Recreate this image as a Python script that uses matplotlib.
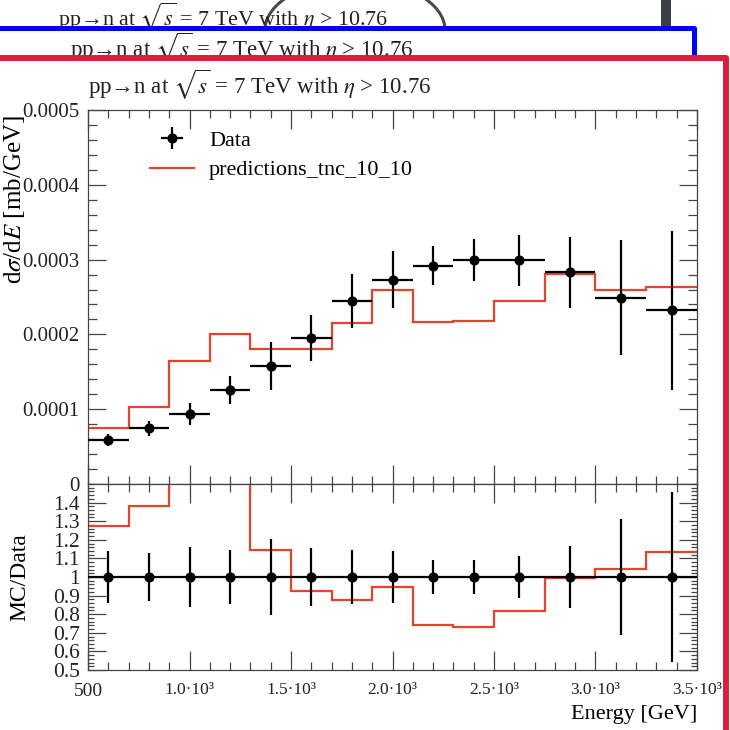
import numpy as np
import matplotlib
matplotlib.use("Agg")
import matplotlib.pyplot as plt
from matplotlib.patches import Rectangle, Ellipse
from matplotlib.lines import Line2D
from matplotlib.ticker import MultipleLocator

plt.rcParams['font.family'] = ['Liberation Serif', 'DejaVu Serif']
plt.rcParams['mathtext.fontset'] = 'stix'

# ---------------- data ----------------
bin_edges = [500, 700, 900, 1100, 1300, 1500, 1700, 1900, 2100, 2300, 2500, 2750, 3000, 3250, 3500]
data_values = [0.588e-4, 0.744e-4, 0.936e-4, 1.257e-4, 1.58e-4, 1.95e-4, 2.45e-4, 2.73e-4,
               2.92e-4, 2.99e-4, 2.99e-4, 2.83e-4, 2.49e-4, 2.32e-4]
data_errors = [0.082e-4, 0.097e-4, 0.15e-4, 0.185e-4, 0.32e-4, 0.306e-4, 0.36e-4, 0.38e-4,
               0.26e-4, 0.28e-4, 0.34e-4, 0.475e-4, 0.77e-4, 1.06e-4]
pred_values = [0.75e-4, 1.03e-4, 1.65e-4, 2.00e-4, 1.81e-4, 1.80e-4, 2.15e-4, 2.59e-4,
               2.16e-4, 2.18e-4, 2.45e-4, 2.81e-4, 2.60e-4, 2.63e-4]

title_text = r'pp→n at $\sqrt{s}$ = 7 TeV with $\eta$ > 10.76'
data_label = 'Data'
pred_label = 'predictions_tnc_10_10'
main_yticks = [0, 1e-4, 2e-4, 3e-4, 4e-4, 5e-4]
main_yticklabels = ['0', '0.0001', '0.0002', '0.0003', '0.0004', '0.0005']
ratio_yticks = [0.5, 0.6, 0.7, 0.8, 0.9, 1.0, 1.1, 1.2, 1.3, 1.4]
ratio_yticklabels = ['0.5', '0.6', '0.7', '0.8', '0.9', '1', '1.1', '1.2', '1.3', '1.4']
xticks = [500, 1000, 1500, 2000, 2500, 3000, 3500]
xticklabels = ['500', '1.0·10³', '1.5·10³', '2.0·10³', '2.5·10³', '3.0·10³', '3.5·10³']

edges = np.array(bin_edges, dtype=float)
centers = 0.5 * (edges[:-1] + edges[1:])
halfw = 0.5 * np.diff(edges)
data = np.array(data_values)
derr = np.array(data_errors)
pred = np.array(pred_values)

W = H = 730
fig = plt.figure(figsize=(7.3, 7.3), dpi=100, facecolor='white')

# ---------------- background "cards" ----------------
bg = fig.add_axes([0, 0, 1, 1])
bg.set_xlim(0, W)
bg.set_ylim(H, 0)
bg.axis('off')

bg.add_patch(Ellipse((355, 30), 180, 100, fill=False, edgecolor='#4a4a4a', lw=2.2, zorder=1))
bg.add_patch(Rectangle((661, -5), 10, 33, facecolor='#3b3e42', edgecolor='none', zorder=1))
bg.text(58, 25, title_text, fontsize=15.8, color='#222222', ha='left', va='baseline', zorder=1.5)

bg.add_patch(Rectangle((-20, 28), 714, 800, facecolor='white', edgecolor='#0000ff',
                       lw=3.6, joinstyle='round', zorder=2))
bg.text(70, 57, title_text, fontsize=16.5, color='#222222', ha='left', va='baseline', zorder=2.5)

bg.add_patch(Rectangle((-20, 58), 746, 800, facecolor='white', edgecolor='#dc1e3c',
                       lw=4.3, joinstyle='round', zorder=3))
bg.text(88, 94, title_text, fontsize=16.5, color='#222222', ha='left', va='baseline', zorder=3.5)

# ---------------- chart ----------------
ax = fig.add_axes([88 / W, 1 - 484 / H, 609 / W, 374 / H])
rax = fig.add_axes([88 / W, 1 - 670 / H, 609 / W, 186 / H])

red = '#e2452c'
tick_col = '#444444'

ax.stairs(pred, edges, baseline=None, color=red, lw=1.6, zorder=2)
ax.errorbar(centers, data, xerr=halfw, yerr=derr, fmt='o', color='black', ms=6.3,
            elinewidth=1.6, capsize=0, zorder=3)

ax.set_xlim(500, 3500)
ax.set_ylim(0, 5e-4)
ax.set_yticks(main_yticks)
ax.set_yticklabels(main_yticklabels)
ax.yaxis.set_minor_locator(MultipleLocator(2e-5))
ax.set_xticks(xticks)
ax.xaxis.set_minor_locator(MultipleLocator(100))
ax.tick_params(axis='x', labelbottom=False)

handles = [
    ax.errorbar([], [], xerr=[], yerr=[], fmt='o', color='black', ms=6.3, elinewidth=1.6, capsize=0),
    Line2D([], [], color=red, lw=1.6),
]
leg = ax.legend(handles, [data_label, pred_label], loc='upper left',
                bbox_to_anchor=((150 - 88) / 609, (484 - 130) / 374), frameon=False,
                fontsize=16, handlelength=2.0, handletextpad=0.65, labelspacing=0.42,
                borderpad=0, borderaxespad=0)

ax.set_ylabel(r'd$\sigma$/d$E$ [mb/GeV]', fontsize=18)
ax.yaxis.label.set_va('center')
ax.yaxis.set_label_coords(15 / W, 1 - 200 / H, transform=fig.transFigure)

# ratio panel
ratio_pred = pred / data
ratio_err = derr / data
rax.stairs(ratio_pred, edges, baseline=None, color=red, lw=1.6, zorder=2)
rax.errorbar(centers, data / data, xerr=halfw, yerr=ratio_err, fmt='o', color='black', ms=6.3,
             elinewidth=1.6, capsize=0, zorder=3)
rax.set_xlim(500, 3500)
rax.set_ylim(0.5, 1.5)
rax.set_yticks(ratio_yticks)
rax.set_yticklabels(ratio_yticklabels)
rax.yaxis.set_minor_locator(MultipleLocator(0.02))
rax.set_xticks(xticks)
rax.set_xticklabels(xticklabels)
rax.xaxis.set_minor_locator(MultipleLocator(100))
for lbl in rax.get_xticklabels():
    lbl.set_fontsize(14 if lbl.get_text() == '500' else 12.5)

rax.set_ylabel('MC/Data', fontsize=17)
rax.yaxis.label.set_va('center')
rax.yaxis.set_label_coords(20 / W, 1 - 577 / H, transform=fig.transFigure)
rax.set_xlabel('Energy [GeV]', fontsize=16, ha='right')
rax.xaxis.label.set_va('center')
rax.xaxis.set_label_coords(697 / W, 1 - 714 / H, transform=fig.transFigure)

for a in (ax, rax):
    for s in a.spines.values():
        s.set_color(tick_col)
        s.set_linewidth(0.9)
    a.tick_params(which='both', direction='in', top=True, right=True, colors=tick_col,
                  labelcolor='#222222', width=0.9)
    a.tick_params(axis='x', which='major', length=13.5)
    a.tick_params(axis='x', which='minor', length=5.8)
ax.tick_params(axis='y', which='major', length=13, labelsize=15, pad=6)
ax.tick_params(axis='y', which='minor', length=6.5)
rax.tick_params(axis='y', which='major', length=13, labelsize=15.5, pad=6)
rax.tick_params(axis='y', which='minor', length=4)
rax.tick_params(axis='x', which='major', pad=9)

fig.savefig('out.png', dpi=100, facecolor='white')
